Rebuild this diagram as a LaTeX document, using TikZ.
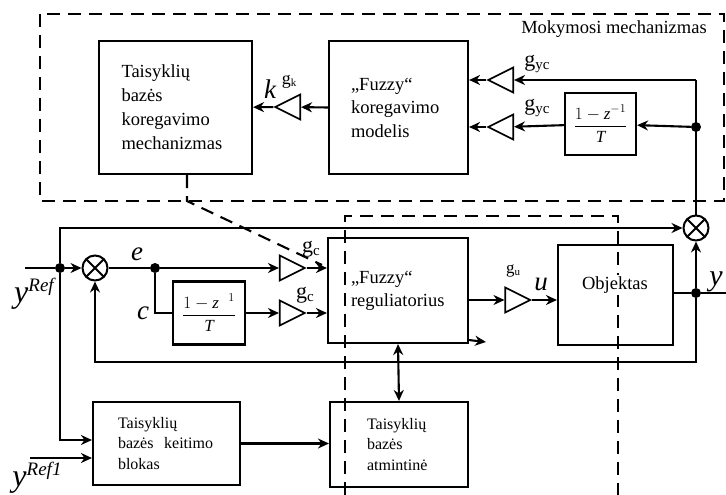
\documentclass[tikz,border=0pt]{standalone}
\usepackage{fontspec}
\setmainfont{Liberation Serif}
\usetikzlibrary{arrows.meta,shapes.geometric}
\tikzset{
  ln/.style={line width=2.1pt},
  arr/.style={ln,-{Stealth[length=11pt,width=10pt]}},
  darr/.style={ln,{Stealth[length=11pt,width=10pt]}-{Stealth[length=11pt,width=10pt]}},
  dsh/.style={line width=2.1pt, dash pattern=on 13pt off 8pt},
  blk/.style={draw, line width=2.1pt, inner sep=0pt, align=left, font=\fontsize{18.5}{24}\selectfont},
  sblk/.style={draw, line width=2.1pt, inner sep=0pt, align=left, font=\fontsize{16}{20.5}\selectfont},
  gain/.style={draw, line width=1.6pt, isosceles triangle, isosceles triangle stretches, minimum width=25pt, minimum height=25pt, inner sep=0pt},
  gainl/.style={gain, shape border rotate=180},
  sum/.style={draw, circle, line width=2pt, minimum size=25pt, inner sep=0pt,
    path picture={\draw[line width=2pt] (path picture bounding box.north west) -- (path picture bounding box.south east)
      (path picture bounding box.north east) -- (path picture bounding box.south west);}},
  dot/.style={circle, fill, inner sep=0pt, minimum size=10pt},
  frac/.style={draw, line width=2.1pt, inner sep=0pt, font=\fontsize{17}{17}\selectfont},
  txt/.style={inner sep=0pt, font=\fontsize{18.5}{22}\selectfont},
  var/.style={inner sep=0pt, font=\fontsize{27}{27}\selectfont\itshape},
  glab/.style={inner sep=0pt, font=\fontsize{22}{22}\selectfont},
}
\begin{document}
\begin{tikzpicture}[x=1pt,y=-1pt]
\useasboundingbox (0,0) rectangle (726,495);
% dashed frames
\draw[dsh] (40,14) rectangle (724,201);
\draw[dsh] (345,495) -- (345,216) -- (618,216) -- (618,495);

% learning mechanism
\node[blk, minimum width=153pt, minimum height=133pt, text width=108pt] (trk) at (175.5,107.5)
  {Taisyklių\\bazės\\koregavimo\\mechanizmas};
\node[blk, minimum width=139pt, minimum height=133pt, text width=95pt, font=\fontsize{18.5}{23.5}\selectfont] (fkm) at (398.5,107.5)
  {„Fuzzy“\\koregavimo\\modelis};
\node[txt] (lmok) at (614,29) {Mokymosi mechanizmas};
\node[gainl] (gk) at (292.5,107) {};
\node[gainl] (gyc1) at (505.5,80) {};
\node[gainl] (gyc2) at (505.5,127) {};
\node[frac, minimum width=71pt, minimum height=62pt] (dz1) at (600.5,124) {$\displaystyle\frac{1-\textit{z}^{-1}}{\textit{T}}$};
\node[glab] (lgyc1) at (537,64) {g\raisebox{-3pt}{\fontsize{15}{15}\selectfont yc}};
\node[glab] (lgyc2) at (537,108) {g\raisebox{-3pt}{\fontsize{15}{15}\selectfont yc}};
\node[var] (lk) at (270,89) {k};
\node[glab, font=\fontsize{18}{18}\selectfont] (lgk) at (289,82) {g\raisebox{-2pt}{\fontsize{11}{11}\selectfont k}};

% main loop
\node[sum] (sumL) at (95,268) {};
\node[sum] (sumR) at (696,228) {};
\node[dot] (dref) at (60,268) {};
\node[dot] (de) at (155,268) {};
\node[gain] (gc1) at (287.5,268) {};
\node[frac, minimum width=72pt, minimum height=63pt] (dz2) at (209,313) {$\displaystyle\frac{1-\textit{z}^{\phantom{-}1}}{\textit{T}}$};
\node[gain] (gc2) at (287.5,313) {};
\node[blk, minimum width=140pt, minimum height=105pt, text width=94pt, font=\fontsize{18.5}{23}\selectfont] (freg) at (398,290.5)
  {„Fuzzy“\\reguliatorius};
\node[gain] (gu) at (513,300) {};
\node[draw, line width=2.1pt, minimum width=115pt, minimum height=100pt] (obj) at (615.5,295) {};
\node[txt, fill=white, inner sep=2pt] (lobj) at (615,285) {Objektas};
\node[dot] (dy) at (696,293) {};
\node[sblk, minimum width=147pt, minimum height=83pt, text width=97pt] (tkb) at (166.5,443.5)
  {Taisyklių\\bazės\ \ keitimo\\blokas};
\node[sblk, minimum width=138pt, minimum height=85pt, text width=64pt] (atm) at (399,444.5)
  {Taisyklių\\bazės\\atmintinė};

% labels
\node[inner sep=0pt] (lyref) at (34,294) {\fontsize{32}{32}\selectfont\itshape y\raisebox{11pt}{\fontsize{19}{19}\selectfont Ref}};
\node[inner sep=0pt] (lyref1) at (37,478) {\fontsize{32}{32}\selectfont\itshape y\raisebox{11pt}{\fontsize{19}{19}\selectfont Ref1}};
\node[var] (le) at (137,254) {e};
\node[var] (lc) at (143,313) {c};
\node[glab] (lgc1) at (311,249) {g\raisebox{-3pt}{\fontsize{15}{15}\selectfont c}};
\node[glab] (lgc2) at (305,295) {g\raisebox{-3pt}{\fontsize{15}{15}\selectfont c}};
\node[glab, font=\fontsize{17}{17}\selectfont] (lgu) at (513,271) {g\raisebox{-2pt}{\fontsize{11}{11}\selectfont u}};
\node[var] (lu) at (541,284) {u};
\node[var, font=\fontsize{30}{30}\selectfont\itshape] (ly) at (716,282) {y};

% coordinates
\coordinate (tr) at (696,80);
\node[dot] (d1) at (696,127) {};
\coordinate (yin) at (25,268);
\coordinate (yin1) at (30,458);
\coordinate (yout) at (726,293);
\coordinate (stubB) at (486,342);
\coordinate (dca) at (187,201);
\coordinate (dcb) at (322,265);

% connectors top
\draw[arr] (fkm.west) -- (gk);
\draw[arr] (gk) -- (trk);
\draw[ln] (sumR.north) -- (tr);
\draw[arr] (tr) -- (gyc1);
\draw[arr] (gyc1) -- (gyc1 -| fkm.east);
\draw[arr] (d1) -- (dz1);
\draw[arr] (dz1) -- (gyc2);
\draw[arr] (gyc2) -- (gyc2 -| fkm.east);
\draw[dsh] (trk.south -| dca) -- (dca) -- (dcb);

% connectors main
\draw[ln] (yin) -- (dref);
\draw[arr] (dref) -- (sumL);
\draw[arr] (dref) |- (sumR);
\draw[arr] (dref) |- (tkb.west |- 0,440);
\draw[ln] (sumL) -- (de);
\draw[arr] (de) -- (gc1);
\draw[arr] (gc1) -- (gc1 -| freg.west);
\draw[ln] (de) |- (dz2);
\draw[arr] (dz2) -- (gc2);
\draw[arr] (gc2) -- (gc2 -| freg.west);
\draw[arr] (freg.east |- gu) -- (gu);
\draw[arr] (gu) -- (gu -| obj.west);
\draw[ln] (obj.east |- dy) -- (dy) -- (yout);
\draw[arr] (dy) -- (sumR);
\draw[arr] (dy) -- (dy |- 0,362) -| (sumL);
\draw[arr] ([yshift=4pt]freg.south east) -- (stubB);
\draw[darr] (freg.south) -- (atm.north);
\draw[arr] (tkb.east) -- (tkb.east -| atm.west);
\draw[arr] (yin1) -- (yin1 -| tkb.west);
\end{tikzpicture}
\end{document}
